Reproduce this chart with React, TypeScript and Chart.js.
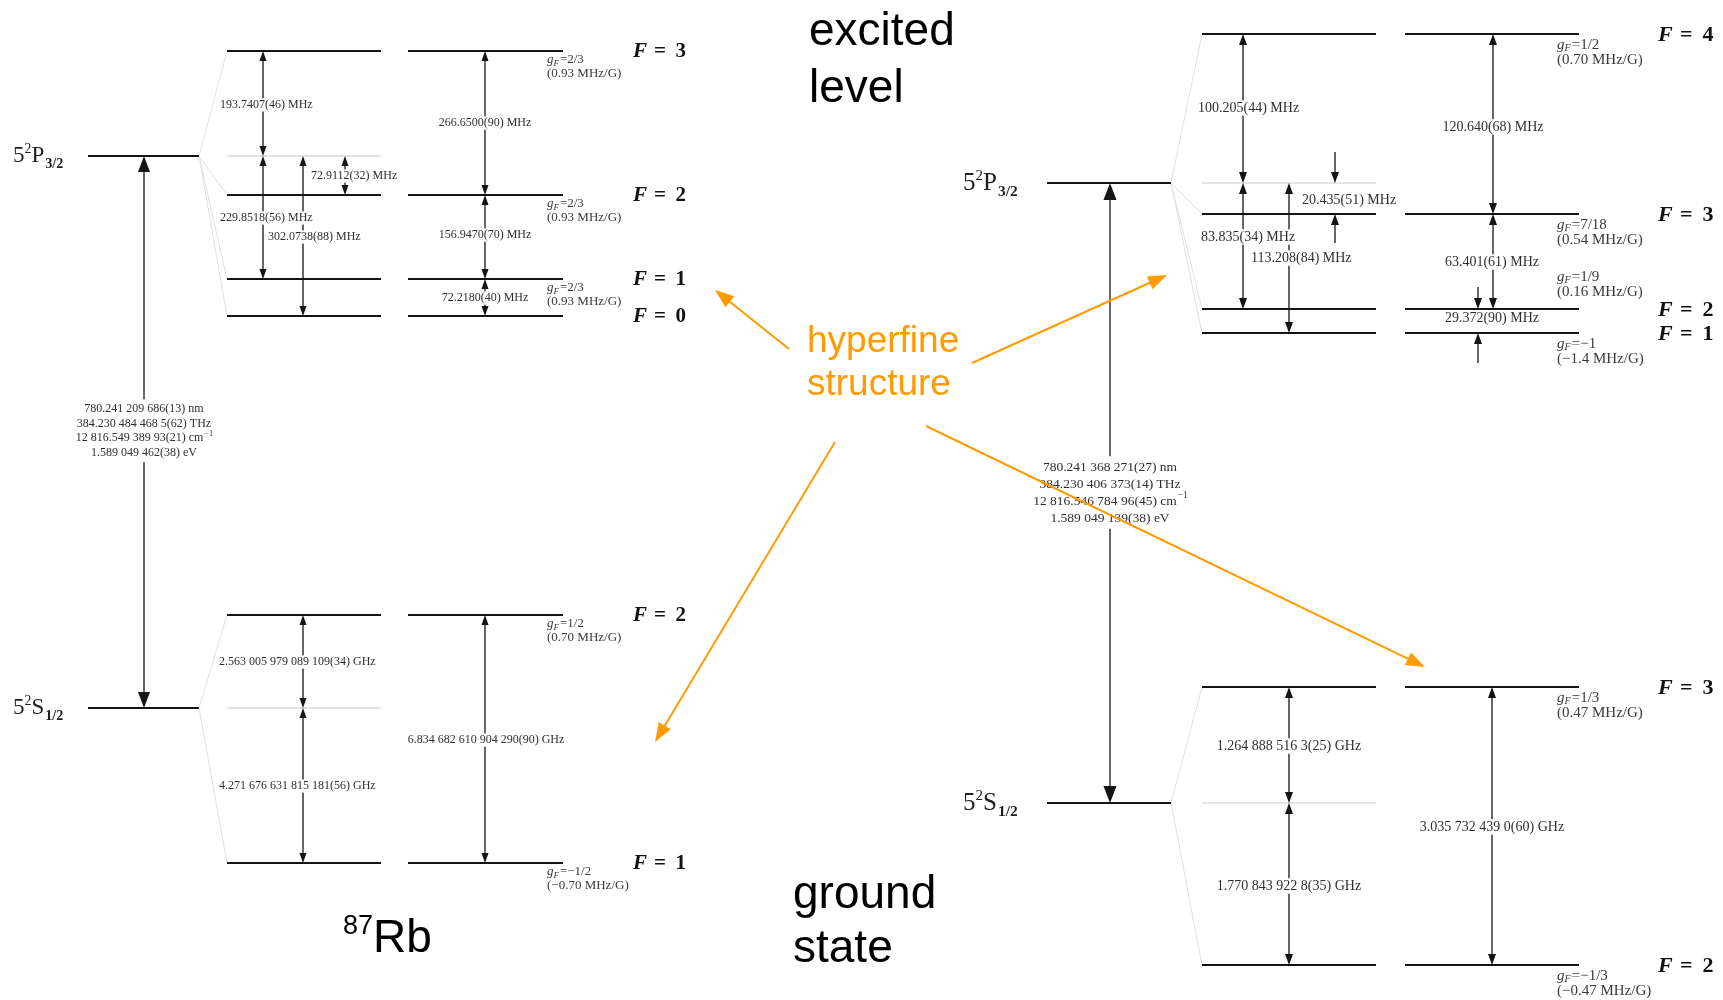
import { useEffect, useRef } from 'react';
import { Chart, registerables } from 'chart.js';

Chart.register(...registerables);

const CANVAS_W = 1723;
const CANVAS_H = 1000;

/* ---------- ⁸⁷Rb D2 line (level heights in diagram units, top = 0) ---------- */
const rb87ExcitedF = [3, 2, 1, 0];
const rb87ExcitedLevels = [51, 195, 279, 316];
const rb87ExcitedFine = 156;
const rb87ExcitedGF = ['2/3', '2/3', '2/3', ''];
const rb87ExcitedZeeman = ['0.93', '0.93', '0.93', ''];
const rb87ExcitedFromFine = ['193.7407(46) MHz', '72.9112(32) MHz', '229.8518(56) MHz', '302.0738(88) MHz'];
const rb87ExcitedIntervals = ['266.6500(90) MHz', '156.9470(70) MHz', '72.2180(40) MHz'];

const rb87GroundF = [2, 1];
const rb87GroundLevels = [615, 863];
const rb87GroundFine = 708;
const rb87GroundGF = ['1/2', '−1/2'];
const rb87GroundZeeman = ['0.70', '−0.70'];
const rb87GroundFromFine = ['2.563 005 979 089 109(34) GHz', '4.271 676 631 815 181(56) GHz'];
const rb87GroundIntervals = ['6.834 682 610 904 290(90) GHz'];

const rb87Transition = [
  '780.241 209 686(13) nm',
  '384.230 484 468 5(62) THz',
  '12 816.549 389 93(21) cm^−1',
  '1.589 049 462(38) eV',
];

/* ---------- ⁸⁵Rb D2 line ---------- */
const rb85ExcitedF = [4, 3, 2, 1];
const rb85ExcitedLevels = [34, 214, 309, 333];
const rb85ExcitedFine = 183;
const rb85ExcitedGF = ['1/2', '7/18', '1/9', '−1'];
const rb85ExcitedZeeman = ['0.70', '0.54', '0.16', '−1.4'];
const rb85ExcitedFromFine = ['100.205(44) MHz', '20.435(51) MHz', '83.835(34) MHz', '113.208(84) MHz'];
const rb85ExcitedIntervals = ['120.640(68) MHz', '63.401(61) MHz', '29.372(90) MHz'];

const rb85GroundF = [3, 2];
const rb85GroundLevels = [687, 965];
const rb85GroundFine = 803;
const rb85GroundGF = ['1/3', '−1/3'];
const rb85GroundZeeman = ['0.47', '−0.47'];
const rb85GroundFromFine = ['1.264 888 516 3(25) GHz', '1.770 843 922 8(35) GHz'];
const rb85GroundIntervals = ['3.035 732 439 0(60) GHz'];

const rb85Transition = [
  '780.241 368 271(27) nm',
  '384.230 406 373(14) THz',
  '12 816.546 784 96(45) cm^−1',
  '1.589 049 139(38) eV',
];

/* ---------- styling ---------- */
const SERIF = '"Liberation Serif", "DejaVu Serif", serif';
const SANS = '"Liberation Sans", Arial, sans-serif';
const INK = '#141414';
const LABEL = '#2f2f2f';
const GUIDE = '#c8c8c8';
const FAN = '#e0e0e0';
const ORANGE = '#ff9a00';

/* ---------- layout of the two diagrams ---------- */
type Spot = { x: number; lx: number; ly: number; align: 'left' | 'center'; outer?: [number, number] };

const rb87Layout = {
  fine: [88, 199], col1: [227, 381], col2: [408, 563],
  termX: 13, termSize: 23, fX: 633, fSize: 21, gX: 547, gSize: 13, gOff: [9, 23],
  textSize: 12, head: [7, 10], mainX: 144, mainHead: [12, 16], mainY: 409, mainStep: 14.5, mainSize: 12,
  exFromFine: [
    { x: 263, lx: 220, ly: 105, align: 'left' },
    { x: 345, lx: 311, ly: 176, align: 'left' },
    { x: 263, lx: 220, ly: 218, align: 'left' },
    { x: 303, lx: 268, ly: 237, align: 'left' },
  ] as Spot[],
  exIntervals: [
    { x: 485, lx: 485, ly: 123, align: 'center' },
    { x: 485, lx: 485, ly: 235, align: 'center' },
    { x: 485, lx: 485, ly: 298, align: 'center' },
  ] as Spot[],
  grFromFine: [
    { x: 303, lx: 219, ly: 662, align: 'left' },
    { x: 303, lx: 219, ly: 786, align: 'left' },
  ] as Spot[],
  grIntervals: [{ x: 485, lx: 486, ly: 740, align: 'center' }] as Spot[],
  gAbove: [false, false, false, false],
};

const rb85Layout = {
  fine: [1047, 1171], col1: [1202, 1376], col2: [1405, 1579],
  termX: 963, termSize: 25, fX: 1658, fSize: 22, gX: 1557, gSize: 15, gOff: [11, 26],
  textSize: 14, head: [8, 11], mainX: 1110, mainHead: [13, 17], mainY: 467, mainStep: 17, mainSize: 13.5,
  exFromFine: [
    { x: 1243, lx: 1198, ly: 108, align: 'left' },
    { x: 1335, lx: 1302, ly: 200, align: 'left', outer: [31, 29] },
    { x: 1243, lx: 1201, ly: 237, align: 'left' },
    { x: 1289, lx: 1251, ly: 258, align: 'left' },
  ] as Spot[],
  exIntervals: [
    { x: 1493, lx: 1493, ly: 127, align: 'center' },
    { x: 1493, lx: 1492, ly: 262, align: 'center' },
    { x: 1478, lx: 1492, ly: 318, align: 'center', outer: [22, 30] },
  ] as Spot[],
  grFromFine: [
    { x: 1289, lx: 1289, ly: 746, align: 'center' },
    { x: 1289, lx: 1289, ly: 886, align: 'center' },
  ] as Spot[],
  grIntervals: [{ x: 1492, lx: 1492, ly: 827, align: 'center' }] as Spot[],
  gAbove: [false, false, true, false],
};

// orange pointers from the "hyperfine structure" note: tail x, tail y, tip x, tip y
const hyperfinePointers: [number, number, number, number][] = [
  [789, 349, 715, 290],
  [972, 363, 1167, 275],
  [835, 442, 655, 742],
  [926, 426, 1425, 667],
];

type State = {
  F: number[]; levels: number[]; fine: number; gF: string[]; zeeman: string[];
  fromFine: string[]; intervals: string[]; term: [string, string];
};

const blocks = [
  {
    ex: { F: rb87ExcitedF, levels: rb87ExcitedLevels, fine: rb87ExcitedFine, gF: rb87ExcitedGF, zeeman: rb87ExcitedZeeman, fromFine: rb87ExcitedFromFine, intervals: rb87ExcitedIntervals, term: ['P', '3/2'] } as State,
    gr: { F: rb87GroundF, levels: rb87GroundLevels, fine: rb87GroundFine, gF: rb87GroundGF, zeeman: rb87GroundZeeman, fromFine: rb87GroundFromFine, intervals: rb87GroundIntervals, term: ['S', '1/2'] } as State,
    transition: rb87Transition,
    lay: rb87Layout,
  },
  {
    ex: { F: rb85ExcitedF, levels: rb85ExcitedLevels, fine: rb85ExcitedFine, gF: rb85ExcitedGF, zeeman: rb85ExcitedZeeman, fromFine: rb85ExcitedFromFine, intervals: rb85ExcitedIntervals, term: ['P', '3/2'] } as State,
    gr: { F: rb85GroundF, levels: rb85GroundLevels, fine: rb85GroundFine, gF: rb85GroundGF, zeeman: rb85GroundZeeman, fromFine: rb85GroundFromFine, intervals: rb85GroundIntervals, term: ['S', '1/2'] } as State,
    transition: rb85Transition,
    lay: rb85Layout,
  },
];

/* ---------- datasets: level lines and fan-out guides ---------- */
function segment(x0: number, y0: number, x1: number, y1: number, color: string, width: number) {
  return {
    data: [{ x: x0, y: y0 }, { x: x1, y: y1 }],
    showLine: true,
    borderColor: color,
    borderWidth: width,
    pointRadius: 0,
    pointHoverRadius: 0,
    fill: false,
  };
}

function buildDatasets() {
  const ds: any[] = [];
  blocks.forEach((b) => {
    const L = b.lay;
    [b.ex, b.gr].forEach((st) => {
      st.levels.forEach((y) => {
        ds.push(segment(L.col1[0], y, L.col1[1], y, INK, 1.9));
        ds.push(segment(L.col2[0], y, L.col2[1], y, INK, 1.9));
      });
      ds.push(segment(L.fine[0], st.fine, L.fine[1], st.fine, INK, 1.9));
      ds.push(segment(L.col1[0], st.fine, L.col1[1], st.fine, GUIDE, 1));
      st.levels.forEach((y) => ds.push(segment(L.fine[1], st.fine, L.col1[0], y, FAN, 1)));
    });
  });
  return ds;
}

/* ---------- drawing helpers ---------- */
type Ctx = CanvasRenderingContext2D;

function tri(ctx: Ctx, x: number, yTip: number, dir: number, w: number, l: number) {
  ctx.beginPath();
  ctx.moveTo(x, yTip);
  ctx.lineTo(x - w / 2, yTip - dir * l);
  ctx.lineTo(x + w / 2, yTip - dir * l);
  ctx.closePath();
  ctx.fill();
}

function shaft(ctx: Ctx, x: number, y0: number, y1: number) {
  ctx.beginPath();
  ctx.moveTo(x, y0);
  ctx.lineTo(x, y1);
  ctx.stroke();
}

function doubleArrow(ctx: Ctx, x: number, yTop: number, yBot: number, head: number[]) {
  const [w, l] = head;
  shaft(ctx, x, yTop + l * 0.5, yBot - l * 0.5);
  tri(ctx, x, yTop, -1, w, l);
  tri(ctx, x, yBot, 1, w, l);
}

function boxedLabel(ctx: Ctx, text: string, x: number, y: number, align: string, size: number) {
  ctx.font = `${size}px ${SERIF}`;
  const w = ctx.measureText(text).width;
  const left = align === 'left' ? x : x - w / 2;
  ctx.fillStyle = '#ffffff';
  ctx.fillRect(left - 2, y - size * 0.55, w + 4, size * 1.1);
  ctx.fillStyle = LABEL;
  ctx.textAlign = 'left';
  ctx.textBaseline = 'middle';
  ctx.fillText(text, left, y);
}

function transitionLabel(ctx: Ctx, lines: string[], cx: number, y0: number, step: number, size: number) {
  const parts = lines.map((t) => t.split('^'));
  const widths = parts.map(([base, sup]) => {
    ctx.font = `${size}px ${SERIF}`;
    let w = ctx.measureText(base).width;
    if (sup) {
      ctx.font = `${size * 0.7}px ${SERIF}`;
      w += ctx.measureText(sup).width;
    }
    return w;
  });
  const maxW = Math.max(...widths);
  ctx.fillStyle = '#ffffff';
  ctx.fillRect(cx - maxW / 2 - 3, y0 - size * 0.8, maxW + 6, step * (lines.length - 1) + size * 1.6);
  ctx.fillStyle = LABEL;
  ctx.textAlign = 'left';
  ctx.textBaseline = 'middle';
  parts.forEach(([base, sup], i) => {
    const y = y0 + i * step;
    const left = cx - widths[i] / 2;
    ctx.font = `${size}px ${SERIF}`;
    ctx.fillText(base, left, y);
    if (sup) {
      const bw = ctx.measureText(base).width;
      ctx.font = `${size * 0.7}px ${SERIF}`;
      ctx.fillText(sup, left + bw + 1, y - size * 0.38);
    }
  });
}

function drawTerm(ctx: Ctx, x: number, base: number, L: string, J: string, s: number) {
  ctx.fillStyle = '#1e1e1e';
  ctx.textAlign = 'left';
  ctx.textBaseline = 'alphabetic';
  ctx.font = `${s}px ${SERIF}`;
  ctx.fillText('5', x, base);
  let cx = x + ctx.measureText('5').width;
  ctx.font = `${s * 0.6}px ${SERIF}`;
  ctx.fillText('2', cx, base - s * 0.42);
  cx += ctx.measureText('2').width;
  ctx.font = `${s}px ${SERIF}`;
  ctx.fillText(L, cx, base);
  cx += ctx.measureText(L).width + 1;
  ctx.font = `bold ${s * 0.62}px ${SERIF}`;
  ctx.fillText(J, cx, base + s * 0.25);
}

function drawF(ctx: Ctx, x: number, y: number, F: number, s: number) {
  ctx.fillStyle = '#111111';
  ctx.textAlign = 'left';
  ctx.textBaseline = 'middle';
  ctx.font = `italic bold ${s}px ${SERIF}`;
  ctx.fillText('F', x, y);
  ctx.font = `bold ${s}px ${SERIF}`;
  ctx.fillText('=', x + 1.0 * s, y);
  ctx.fillText(String(F), x + 2.02 * s, y);
}

function drawGF(ctx: Ctx, x: number, y1: number, y2: number, g: string, z: string, s: number) {
  ctx.fillStyle = '#3a3a3a';
  ctx.textAlign = 'left';
  ctx.textBaseline = 'middle';
  ctx.font = `italic ${s}px ${SERIF}`;
  ctx.fillText('g', x, y1);
  let cx = x + ctx.measureText('g').width;
  ctx.font = `italic ${s * 0.68}px ${SERIF}`;
  ctx.fillText('F', cx, y1 + s * 0.25);
  cx += ctx.measureText('F').width + 1;
  ctx.font = `${s}px ${SERIF}`;
  ctx.fillText('=' + g, cx, y1);
  ctx.fillText(`(${z} MHz/G)`, x, y2);
}

function pointer(ctx: Ctx, x0: number, y0: number, x1: number, y1: number) {
  const ang = Math.atan2(y1 - y0, x1 - x0);
  const len = 19;
  const half = 7;
  const cos = Math.cos(ang);
  const sin = Math.sin(ang);
  ctx.strokeStyle = ORANGE;
  ctx.fillStyle = ORANGE;
  ctx.lineWidth = 2;
  ctx.beginPath();
  ctx.moveTo(x0, y0);
  ctx.lineTo(x1 - cos * len * 0.8, y1 - sin * len * 0.8);
  ctx.stroke();
  const bx = x1 - cos * len;
  const by = y1 - sin * len;
  ctx.beginPath();
  ctx.moveTo(x1, y1);
  ctx.lineTo(bx - sin * half, by + cos * half);
  ctx.lineTo(bx + sin * half, by - cos * half);
  ctx.closePath();
  ctx.fill();
}

/* ---------- plugin drawing arrows and annotations on the scales ---------- */
const levelDiagram = {
  id: 'levelDiagram',
  afterDatasetsDraw(chart: any) {
    const ctx: Ctx = chart.ctx;
    const X = (v: number) => chart.scales.x.getPixelForValue(v);
    const Y = (v: number) => chart.scales.y.getPixelForValue(v);
    ctx.save();

    blocks.forEach((b) => {
      const L = b.lay;
      ctx.strokeStyle = INK;
      ctx.fillStyle = INK;
      ctx.lineWidth = 1.3;

      // optical D2 transition between the fine-structure levels
      doubleArrow(ctx, X(L.mainX), Y(b.ex.fine), Y(b.gr.fine), L.mainHead);

      const labels: [string, Spot][] = [];
      const span = (x: number, a: number, c: number, outer?: [number, number]) => {
        const top = Math.min(a, c);
        const bot = Math.max(a, c);
        ctx.strokeStyle = INK;
        ctx.fillStyle = INK;
        if (outer) {
          const [w, l] = L.head;
          shaft(ctx, X(x), Y(top - outer[0]), Y(top) - l * 0.5);
          tri(ctx, X(x), Y(top), 1, w, l);
          shaft(ctx, X(x), Y(bot + outer[1]), Y(bot) + l * 0.5);
          tri(ctx, X(x), Y(bot), -1, w, l);
        } else {
          doubleArrow(ctx, X(x), Y(top), Y(bot), L.head);
        }
      };
      const splittings = (st: State, fromSpots: Spot[], intSpots: Spot[]) => {
        st.fromFine.forEach((text, i) => {
          const s = fromSpots[i];
          span(s.x, st.fine, st.levels[i], s.outer);
          labels.push([text, s]);
        });
        st.intervals.forEach((text, i) => {
          const s = intSpots[i];
          span(s.x, st.levels[i], st.levels[i + 1], s.outer);
          labels.push([text, s]);
        });
      };
      splittings(b.ex, L.exFromFine, L.exIntervals);
      splittings(b.gr, L.grFromFine, L.grIntervals);

      labels.forEach(([text, s]) => boxedLabel(ctx, text, X(s.lx), Y(s.ly), s.align, L.textSize));
      transitionLabel(ctx, b.transition, X(L.mainX), Y(L.mainY), L.mainStep, L.mainSize);

      // term symbols
      [b.ex, b.gr].forEach((st) => {
        drawTerm(ctx, X(L.termX), Y(st.fine) + L.termSize * 0.28, st.term[0], st.term[1], L.termSize);
      });

      // F labels and Landé factors
      [b.ex, b.gr].forEach((st, k) => {
        st.levels.forEach((y, i) => {
          drawF(ctx, X(L.fX), Y(y) + 1, st.F[i], L.fSize);
          if (!st.gF[i]) return;
          const above = k === 0 && L.gAbove[i];
          const y1 = above ? Y(y) - L.gOff[1] - 6 : Y(y) + L.gOff[0];
          const y2 = above ? Y(y) - L.gOff[0] - 6 : Y(y) + L.gOff[1];
          drawGF(ctx, X(L.gX), y1, y2, st.gF[i], st.zeeman[i], L.gSize);
        });
      });
    });

    // headings
    ctx.fillStyle = '#000000';
    ctx.textAlign = 'left';
    ctx.textBaseline = 'alphabetic';
    ctx.font = `46px ${SANS}`;
    ctx.fillText('excited', X(809), Y(45));
    ctx.fillText('level', X(809), Y(102));
    ctx.fillText('ground', X(793), Y(908));
    ctx.fillText('state', X(793), Y(962));
    ctx.font = `27px ${SANS}`;
    ctx.fillText('87', X(343), Y(934));
    const w87 = ctx.measureText('87').width;
    ctx.font = `46px ${SANS}`;
    ctx.fillText('Rb', X(343) + w87, Y(952));

    // hyperfine note with its pointers
    ctx.fillStyle = ORANGE;
    ctx.font = `37px ${SANS}`;
    ctx.fillText('hyperfine', X(807), Y(352));
    ctx.fillText('structure', X(807), Y(395));
    hyperfinePointers.forEach(([x0, y0, x1, y1]) => pointer(ctx, X(x0), Y(y0), X(x1), Y(y1)));

    ctx.restore();
  },
};

export default function App() {
  const ref = useRef<HTMLCanvasElement>(null);

  useEffect(() => {
    document.body.style.margin = '0';
    const canvas = ref.current;
    if (!canvas) return;
    const chart = new Chart(canvas, {
      type: 'scatter',
      data: { datasets: buildDatasets() },
      options: {
        animation: false,
        responsive: false,
        devicePixelRatio: 1,
        events: [],
        layout: { padding: 0 },
        plugins: { legend: { display: false }, tooltip: { enabled: false } },
        scales: {
          x: { type: 'linear', min: 0, max: CANVAS_W, display: false },
          y: { type: 'linear', min: 0, max: CANVAS_H, reverse: true, display: false },
        },
      },
      plugins: [levelDiagram],
    } as any);
    return () => chart.destroy();
  }, []);

  return (
    <canvas
      ref={ref}
      width={CANVAS_W}
      height={CANVAS_H}
      style={{ display: 'block', width: CANVAS_W, height: CANVAS_H, background: '#ffffff' }}
    />
  );
}
